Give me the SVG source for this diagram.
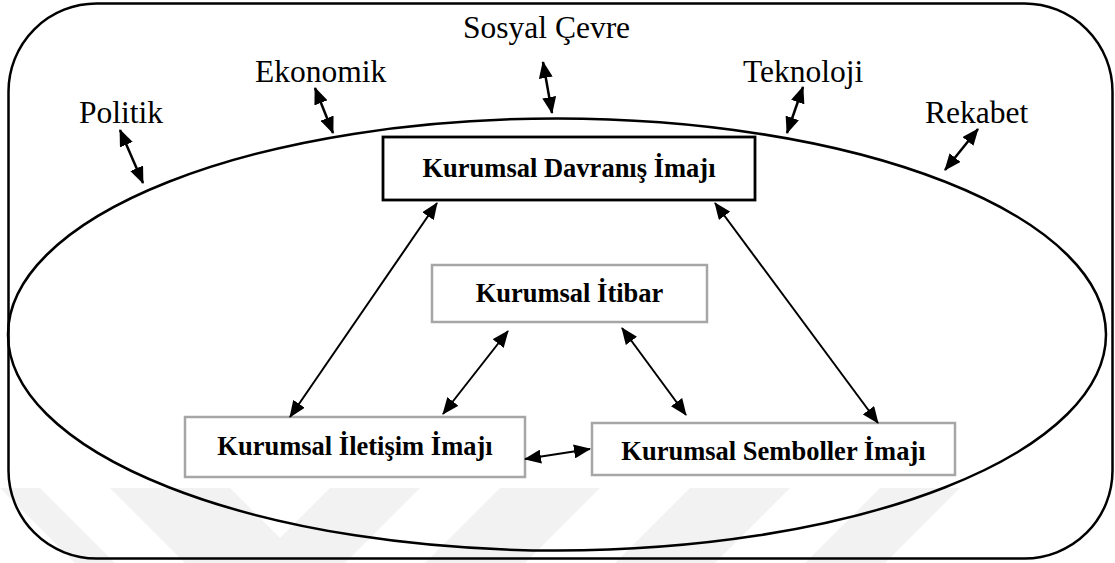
<svg xmlns="http://www.w3.org/2000/svg" width="1115" height="563" viewBox="0 0 1115 563">
  <style>
    .env { font-family: "Liberation Serif", "Times New Roman", serif; font-size: 31.5px; fill: #000; }
    .lbl { font-family: "Liberation Serif", "Times New Roman", serif; font-size: 26.5px; font-weight: bold; fill: #000; text-anchor: middle; }
    .frame { fill: none; stroke: #000; stroke-width: 2.5; }
    .box-main { fill: #fff; stroke: #000; stroke-width: 2.8; }
    .box { fill: #fff; stroke: #a6a6a6; stroke-width: 2.5; }
    .link { fill: none; stroke: #000; stroke-width: 2; marker-start: url(#head); marker-end: url(#head); }
    .link-env { fill: none; stroke: #000; stroke-width: 2.5; marker-start: url(#head-env); marker-end: url(#head-env); }
    .wm { fill: #f2f2f2; }
  </style>
  <defs>
    <marker id="head" markerUnits="userSpaceOnUse" markerWidth="18" markerHeight="14" viewBox="0 0 18 14" refX="16" refY="7" orient="auto-start-reverse">
      <path d="M0,0 L17,7 L0,14 z" fill="#000"/>
    </marker>
    <marker id="head-env" markerUnits="userSpaceOnUse" markerWidth="18" markerHeight="14" viewBox="0 0 18 14" refX="16" refY="7" orient="auto-start-reverse">
      <path d="M0,0 L17,7 L0,14 z" fill="#000"/>
    </marker>
  </defs>

  <rect width="1115" height="563" fill="#fff"/>

  <!-- faint background bands -->
  <g id="bands">
    <polygon class="wm" points="0,488 40,488 115,563 75,563"/>
    <polygon class="wm" points="110,488 230,488 305,563 185,563"/>
    <polygon class="wm" points="330,488 420,488 345,563 255,563"/>
    <polygon class="wm" points="500,488 600,488 525,563 425,563"/>
    <polygon class="wm" points="690,488 790,488 715,563 615,563"/>
    <polygon class="wm" points="880,488 960,488 885,563 805,563"/>
  </g>

  <!-- environment frame and organisation boundary -->
  <g id="environment">
    <rect class="frame" x="8.5" y="3.5" width="1104" height="555" rx="88" ry="88"/>
  </g>
  <g id="organisation">
    <ellipse class="frame" cx="557" cy="334.5" rx="549" ry="216"/>
  </g>

  <!-- environmental factors -->
  <g id="sosyal-cevre"><text class="env" x="463" y="38">Sosyal Çevre</text></g>
  <g id="ekonomik"><text class="env" x="255" y="82">Ekonomik</text></g>
  <g id="teknoloji"><text class="env" x="743" y="82">Teknoloji</text></g>
  <g id="politik"><text class="env" x="79" y="123">Politik</text></g>
  <g id="rekabet"><text class="env" x="925" y="123">Rekabet</text></g>

  <!-- image components -->
  <g id="davranis">
    <rect class="box-main" x="383" y="137" width="372" height="63"/>
    <text class="lbl" x="569" y="177">Kurumsal Davranış İmajı</text>
  </g>
  <g id="itibar">
    <rect class="box" x="432" y="265" width="275" height="57"/>
    <text class="lbl" x="569.5" y="302">Kurumsal İtibar</text>
  </g>
  <g id="iletisim">
    <rect class="box" x="185" y="417" width="340" height="60"/>
    <text class="lbl" x="355" y="455">Kurumsal İletişim İmajı</text>
  </g>
  <g id="semboller">
    <rect class="box" x="592" y="423" width="363" height="52"/>
    <text class="lbl" x="773.5" y="460">Kurumsal Semboller İmajı</text>
  </g>

  <!-- connectors -->
  <g id="connectors">
    <line class="link-env" x1="120" y1="130" x2="143" y2="183"/>
    <line class="link-env" x1="315" y1="88" x2="333" y2="133"/>
    <line class="link-env" x1="543" y1="62" x2="552" y2="113"/>
    <line class="link-env" x1="803" y1="87" x2="787" y2="133"/>
    <line class="link-env" x1="978" y1="129" x2="945" y2="170"/>

    <line class="link" x1="437" y1="203" x2="290" y2="417"/>
    <line class="link" x1="715" y1="203" x2="878" y2="423"/>
    <line class="link" x1="508" y1="331" x2="443" y2="414"/>
    <line class="link" x1="622" y1="328" x2="686" y2="415"/>
    <line class="link" x1="525" y1="459" x2="590" y2="449"/>
  </g>
</svg>
